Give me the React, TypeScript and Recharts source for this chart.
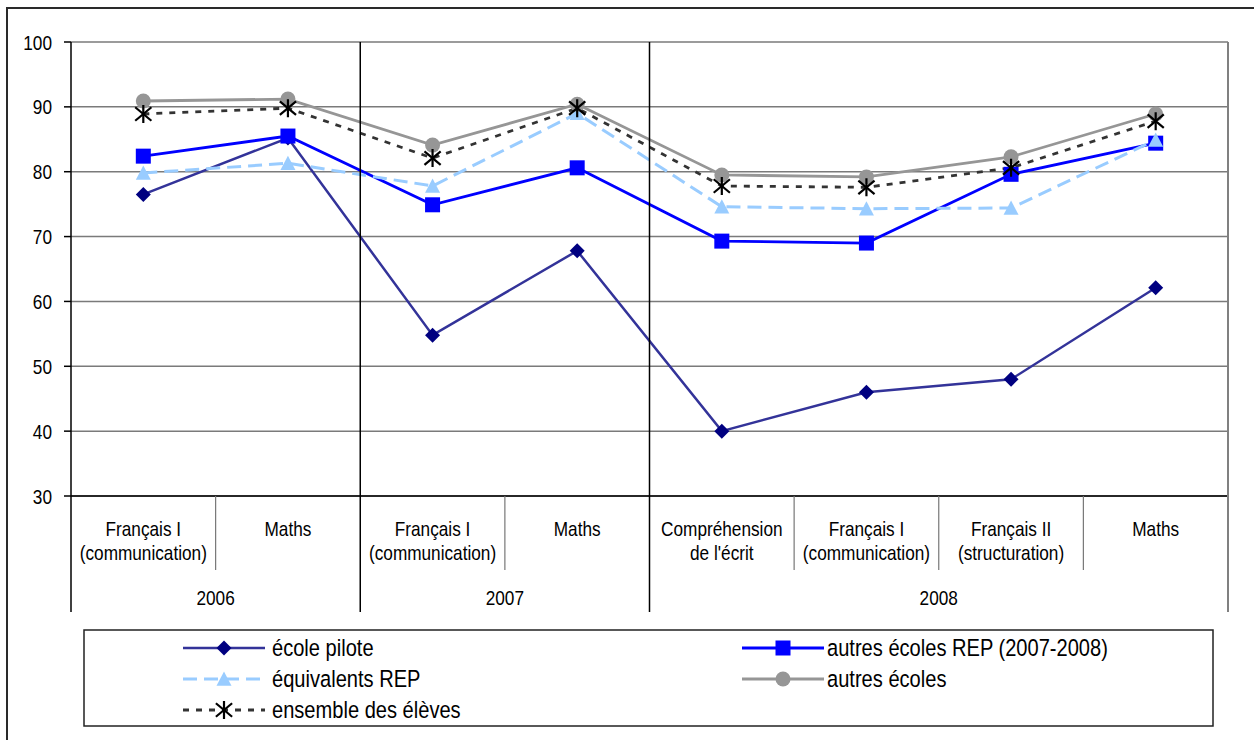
import React from 'react';
import { LineChart, Line, XAxis, YAxis, CartesianGrid } from 'recharts';

const catLine1 = ['Français I', 'Maths', 'Français I', 'Maths', 'Compréhension', 'Français I', 'Français II', 'Maths'];
const catLine2 = ['(communication)', '', '(communication)', '', "de l'écrit", '(communication)', '(structuration)', ''];
const years = ['2006', '2006', '2007', '2007', '2008', '2008', '2008', '2008'];

const pilote = [76.5, 85.2, 54.8, 67.8, 40.0, 46.0, 48.0, 62.1];
const repAutres = [82.4, 85.5, 74.9, 80.6, 69.3, 69.0, 79.6, 84.4];
const equivRep = [79.8, 81.3, 77.8, 89.0, 74.6, 74.3, 74.4, 84.9];
const autresEcoles = [90.9, 91.2, 84.1, 90.4, 79.5, 79.2, 82.3, 88.9];
const ensemble = [88.9, 89.8, 82.1, 89.8, 77.8, 77.6, 80.6, 87.8];

const yTicks = [30, 40, 50, 60, 70, 80, 90, 100];

const data = catLine1.map((c, i) => ({
  key: i,
  pilote: pilote[i],
  repAutres: repAutres[i],
  equivRep: equivRep[i],
  autresEcoles: autresEcoles[i],
  ensemble: ensemble[i],
}));

const FONT = "'Liberation Sans', Arial, sans-serif";
const FS = 21;
const LEG_FS = 24.5;
const SX = 0.82;
const W = 1254;
const H = 740;
const PLOT = { left: 71, top: 42, right: 1228, bottom: 496 };
const BAND = (PLOT.right - PLOT.left) / catLine1.length;
const AXIS_END = 612;
const CAT_SEP_END = 570;

function Txt({ x, y, anchor = 'middle', dy, size = FS, children }: any) {
  return (
    <text
      x={0}
      y={0}
      dy={dy}
      transform={`translate(${x},${y}) scale(${SX},1)`}
      textAnchor={anchor}
      fontSize={size}
      fontFamily={FONT}
      fill="#000"
    >
      {children}
    </text>
  );
}

function Diamond({ cx, cy, fill, s = 7.5 }: any) {
  return <path d={`M${cx},${cy - s}L${cx + s},${cy}L${cx},${cy + s}L${cx - s},${cy}Z`} fill={fill} />;
}
function Square({ cx, cy, fill, s = 7.5 }: any) {
  return <rect x={cx - s} y={cy - s} width={2 * s} height={2 * s} fill={fill} />;
}
function Triangle({ cx, cy, fill, s = 7.5 }: any) {
  return <path d={`M${cx},${cy - s}L${cx + s},${cy + s * 0.9}L${cx - s},${cy + s * 0.9}Z`} fill={fill} />;
}
function Circle({ cx, cy, fill, s = 7.5 }: any) {
  return <circle cx={cx} cy={cy} r={s} fill={fill} />;
}
function Star({ cx, cy, fill, s = 9 }: any) {
  return (
    <g stroke={fill} strokeWidth={2.2}>
      <line x1={cx} y1={cy - s} x2={cx} y2={cy + s} />
      <line x1={cx - s * 0.9} y1={cy - s * 0.75} x2={cx + s * 0.9} y2={cy + s * 0.75} />
      <line x1={cx - s * 0.9} y1={cy + s * 0.75} x2={cx + s * 0.9} y2={cy - s * 0.75} />
    </g>
  );
}

const series = [
  { key: 'pilote', name: 'école pilote', stroke: '#333399', width: 2.5, dash: undefined, marker: Diamond, mfill: '#000080' },
  { key: 'repAutres', name: 'autres écoles REP (2007-2008)', stroke: '#0000FF', width: 2.8, dash: undefined, marker: Square, mfill: '#0000FF' },
  { key: 'equivRep', name: 'équivalents REP', stroke: '#99CCFF', width: 3, dash: '14 7', marker: Triangle, mfill: '#99CCFF' },
  { key: 'autresEcoles', name: 'autres écoles', stroke: '#969696', width: 2.8, dash: undefined, marker: Circle, mfill: '#969696' },
  { key: 'ensemble', name: 'ensemble des élèves', stroke: '#333333', width: 2.8, dash: '6 7', marker: Star, mfill: '#000000' },
];

function YTick(props: any) {
  const { x, y, payload } = props;
  return (
    <Txt x={x} y={y} anchor="end" dy="0.36em">
      {payload.value}
    </Txt>
  );
}

function CatTick(props: any) {
  const { x } = props;
  const i: number = props.index ?? props.payload?.index ?? 0;
  const n = catLine1.length;
  const left = x - BAND / 2;
  const parts: any[] = [];
  const groupStart = i === 0 || years[i] !== years[i - 1];
  if (i === 0) {
    parts.push(<line key="l0" x1={left} x2={left} y1={PLOT.bottom} y2={AXIS_END} stroke="#000" strokeWidth={1.5} />);
  } else if (groupStart) {
    parts.push(<line key="g" x1={left} x2={left} y1={PLOT.top} y2={AXIS_END} stroke="#000" strokeWidth={1.5} />);
  } else {
    parts.push(<line key="c" x1={left} x2={left} y1={PLOT.bottom} y2={CAT_SEP_END} stroke="#777" strokeWidth={1.2} />);
  }
  if (i === n - 1) {
    const r = x + BAND / 2;
    parts.push(<line key="r" x1={r} x2={r} y1={PLOT.top} y2={AXIS_END} stroke="#808080" strokeWidth={2} />);
  }
  parts.push(
    <Txt key="t1" x={x} y={536}>
      {catLine1[i]}
    </Txt>
  );
  if (catLine2[i]) {
    parts.push(
      <Txt key="t2" x={x} y={560}>
        {catLine2[i]}
      </Txt>
    );
  }
  if (groupStart) {
    let count = 0;
    for (let j = i; j < n && years[j] === years[i]; j++) count++;
    parts.push(
      <Txt key="y" x={x + ((count - 1) * BAND) / 2} y={605}>
        {years[i]}
      </Txt>
    );
  }
  return <g>{parts}</g>;
}

function LegendSymbol({ s, x, y }: any) {
  const M = s.marker;
  return (
    <g>
      <line x1={x} x2={x + 82} y1={y} y2={y} stroke={s.stroke} strokeWidth={s.width} strokeDasharray={s.dash} />
      <M cx={x + 41} cy={y} fill={s.mfill} />
    </g>
  );
}

function LegendBox() {
  const rows = [648, 679, 710];
  const cols = [{ sx: 183, tx: 272 }, { sx: 742, tx: 827 }];
  return (
    <svg width={W} height={H} style={{ position: 'absolute', left: 0, top: 0, pointerEvents: 'none' }}>
      <rect x={84} y={630} width={1129} height={96} fill="#fff" stroke="#222" strokeWidth={1.5} />
      {series.map((s, k) => {
        const r = Math.floor(k / 2);
        const c = cols[k % 2];
        const y = rows[r];
        return (
          <g key={s.key}>
            <LegendSymbol s={s} x={c.sx} y={y} />
            <Txt x={c.tx} y={y} anchor="start" dy="0.34em" size={LEG_FS}>
              {s.name}
            </Txt>
          </g>
        );
      })}
    </svg>
  );
}

export default function App() {
  return (
    <div style={{ position: 'fixed', left: 0, top: 0, width: W, height: H, overflow: 'hidden', background: '#fff' }}>
      <div
        style={{
          position: 'absolute',
          left: 6,
          top: 7,
          width: 1400,
          height: 900,
          borderLeft: '2px solid #2a2a2a',
          borderTop: '2px solid #2a2a2a',
        }}
      />
      <div style={{ position: 'absolute', left: 0, top: 0 }}>
        <LineChart
          width={W}
          height={H}
          data={data}
          margin={{ top: PLOT.top, right: W - PLOT.right, left: 0, bottom: 0 }}
        >
          <CartesianGrid vertical={false} stroke="#7a7a7a" strokeWidth={1.5} />
          <YAxis
            width={PLOT.left}
            domain={[30, 100]}
            ticks={yTicks}
            type="number"
            allowDataOverflow
            axisLine={{ stroke: '#000', strokeWidth: 1.5 }}
            tickLine={{ stroke: '#000', strokeWidth: 1.5 }}
            tickSize={7}
            tickMargin={12}
            tick={(p: any) => <YTick {...p} />}
          />
          <XAxis
            dataKey="key"
            scale="band"
            interval={0}
            height={H - PLOT.bottom}
            axisLine={{ stroke: '#000', strokeWidth: 1.5 }}
            tickLine={false}
            tick={(p: any) => <CatTick {...p} />}
          />
          {series.map((s) => {
            const M = s.marker;
            return (
              <Line
                key={s.key}
                dataKey={s.key}
                name={s.name}
                stroke={s.stroke}
                strokeWidth={s.width}
                strokeDasharray={s.dash}
                isAnimationActive={false}
                activeDot={false}
                dot={(p: any) => <M key={`${s.key}-${p.index}`} cx={p.cx} cy={p.cy} fill={s.mfill} />}
              />
            );
          })}
        </LineChart>
      </div>
      <LegendBox />
    </div>
  );
}
